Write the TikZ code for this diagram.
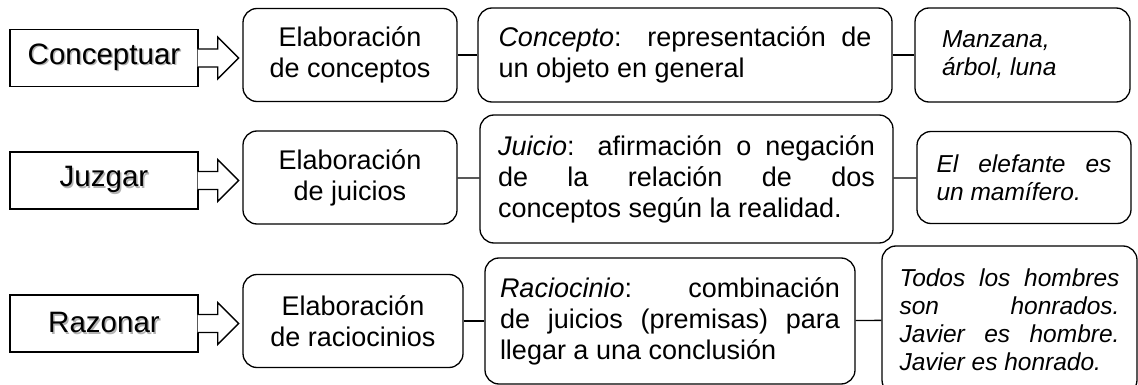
\documentclass[tikz,border=0pt]{standalone}
\usepackage{fontspec}
\setmainfont{Liberation Sans}
\usetikzlibrary{calc}
\tolerance=10000
\hyphenpenalty=10000
\newcommand{\shtxt}[1]{\makebox[0pt][l]{\hspace{1.5pt}\raisebox{-1.5pt}{\textcolor{black!30}{#1}}}#1}

\begin{document}
\begin{tikzpicture}[
    x=1pt, y=-1pt,
    line width=1.3pt,
    verbbox/.style={draw, minimum width=188, minimum height=57, inner sep=0pt, font=\fontsize{29.5}{34}\selectfont},
    task/.style={draw, rounded corners=14pt, minimum width=214, minimum height=93, inner sep=0pt, align=center, font=\fontsize{27}{31}\selectfont},
    defn/.style={draw, rounded corners=14pt, inner sep=0pt, align=justify, font=\fontsize{27}{31}\selectfont},
    sample/.style={draw, rounded corners=14pt, inner sep=0pt, align=justify, font=\fontsize{24.5}{28}\selectfont\itshape},
    hollow/.style={draw, fill=white},
    joint/.style={draw}
]
\useasboundingbox (0,0) rectangle (1138,385);
\clip (0,0) rectangle (1138,385);

% Nodes
\node[verbbox] (conc) at (104,58) {\shtxt{Conceptuar}};
\node[task] (elabconc) at (350,55) {Elaboración\\de conceptos};
\node[defn, minimum width=414, minimum height=94, text width=373] (defconc) at (685,55) {\textit{Concepto}: representación de\linebreak un objeto en general};
\node[sample, minimum width=215, minimum height=94, text width=161] (exconc) at (1022.5,55) {Manzana,\newline árbol, luna};

\node[verbbox] (juzg) at (104,180.5) {\shtxt{Juzgar}};
\node[task] (elabjuic) at (350,177.5) {Elaboración\\de juicios};
\node[defn, minimum width=413, minimum height=128, text width=377] (defjuic) at (686.5,179) {\textit{Juicio}: afirmación o negación\linebreak de la relación de dos\linebreak conceptos según la realidad.};
\node[sample, minimum width=214, minimum height=92, text width=175] (exjuic) at (1024,177.5) {El elefante es\linebreak un mamífero.};

\node[verbbox] (razo) at (104,323.5) {\shtxt{Razonar}};
\node[task, minimum width=220] (elabraci) at (353,321) {Elaboración\\de raciocinios};
\node[defn, minimum width=370, minimum height=126, text width=340] (defraci) at (670,321) {\textit{Raciocinio}: combinación\linebreak de juicios (premisas) para\linebreak llegar a una conclusión};
\node[sample, minimum width=255, minimum height=148, text width=220] (exraci) at (1009.5,320) {Todos los hombres\linebreak son honrados.\linebreak Javier es hombre.\linebreak Javier es honrado.};

% Arrows
\draw[hollow] ($(conc.east)+(-1,-9)$) -- ++(20,0) -- ++(0,-12) -- ($(conc.east)+(40,0)$) -- ($(conc.east)+(19,21)$) -- ++(0,-12) -- ($(conc.east)+(-1,9)$);
\draw[hollow] ($(juzg.east)+(-1,-9)$) -- ++(20,0) -- ++(0,-12) -- ($(juzg.east)+(40,0)$) -- ($(juzg.east)+(19,21)$) -- ++(0,-12) -- ($(juzg.east)+(-1,9)$);
\draw[hollow] ($(razo.east)+(-1,-9)$) -- ++(20,0) -- ++(0,-12) -- ($(razo.east)+(40,0)$) -- ($(razo.east)+(19,21)$) -- ++(0,-12) -- ($(razo.east)+(-1,9)$);

\draw[joint] (elabconc) -- (defconc);
\draw[joint] (defconc) -- (exconc);
\draw[joint] (elabjuic) -- (defjuic);
\draw[joint] (defjuic) -- (exjuic);
\draw[joint] (elabraci) -- (defraci);
\draw[joint] (defraci) -- (exraci);

\end{tikzpicture}
\end{document}
